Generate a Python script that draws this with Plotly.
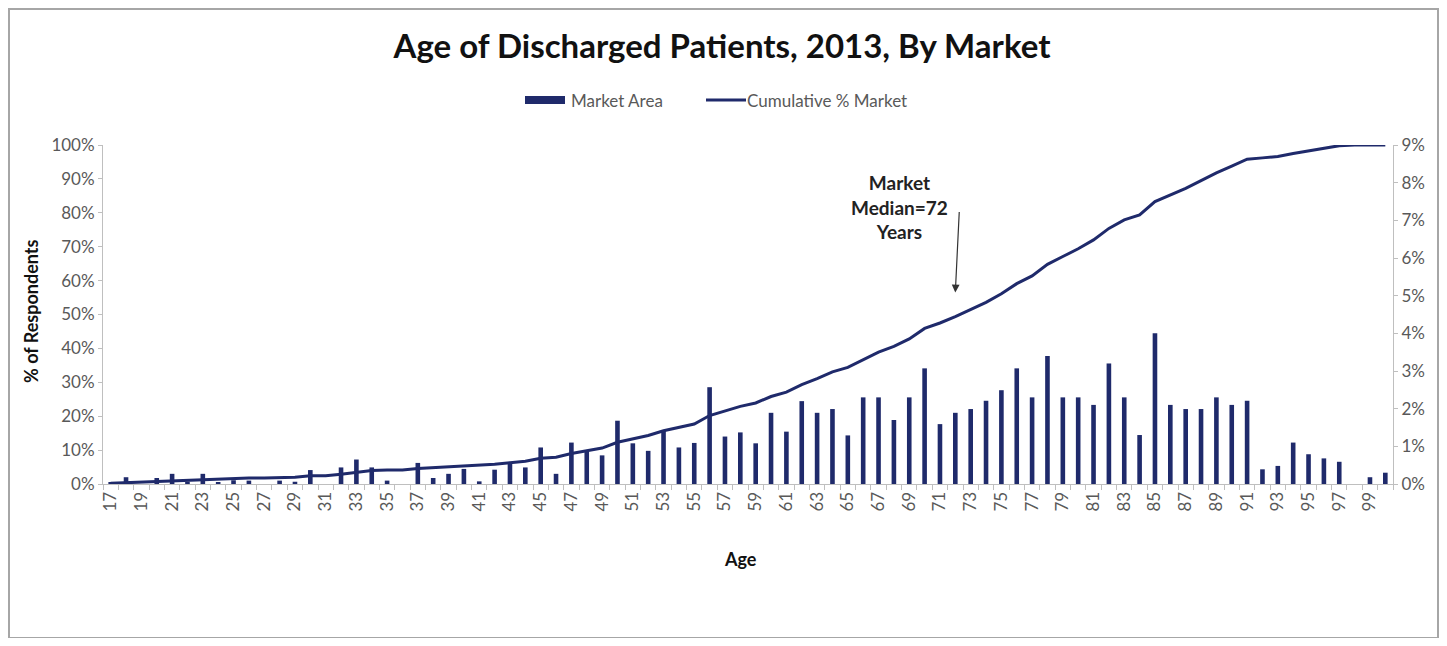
import plotly.graph_objects as go

# ---- data ----
ages = list(range(17, 101))
market_area = [0.05, 0.18, 0.0, 0.16, 0.27, 0.06, 0.27, 0.04, 0.10, 0.09,
               0.0, 0.09, 0.06, 0.37, 0.0, 0.44, 0.65, 0.44, 0.09, 0.0,
               0.56, 0.16, 0.27, 0.40, 0.07, 0.38, 0.56, 0.44, 0.97, 0.27,
               1.10, 0.90, 0.76, 1.68, 1.08, 0.88, 1.43, 0.97, 1.09, 2.57,
               1.26, 1.37, 1.08, 1.89, 1.39, 2.20, 1.89, 1.99, 1.29, 2.30,
               2.30, 1.70, 2.30, 3.07, 1.59, 1.89, 1.99, 2.21, 2.49, 3.07,
               2.30, 3.40, 2.30, 2.30, 2.10, 3.20, 2.30, 1.30, 4.00, 2.10,
               1.99, 1.99, 2.30, 2.10, 2.21, 0.39, 0.48, 1.10, 0.79, 0.68,
               0.59, 0.0, 0.18, 0.30]
cumulative = [0.2, 0.4, 0.5, 0.7, 1.0, 1.1, 1.4, 1.5, 1.7, 1.8,
              1.8, 1.9, 2.0, 2.4, 2.4, 2.9, 3.5, 4.0, 4.1, 4.1,
              4.6, 4.8, 5.0, 5.3, 5.4, 5.8, 6.3, 6.7, 7.6, 7.9,
              9.0, 9.8, 10.6, 12.3, 13.4, 14.3, 15.7, 16.6, 17.7, 20.2,
              21.5, 22.9, 23.9, 25.8, 27.1, 29.3, 31.1, 33.1, 34.4, 36.7,
              38.9, 40.6, 42.8, 45.9, 47.5, 49.4, 51.4, 53.6, 56.1, 59.1,
              61.4, 64.8, 67.1, 69.4, 72.0, 75.4, 77.9, 79.4, 83.3, 85.3,
              87.2, 89.5, 91.8, 93.8, 95.8, 96.2, 96.6, 97.5, 98.3, 99.0,
              99.8, 100.0, 100.0, 100.0]
x_tick_vals = list(range(17, 100, 2))
left_ticks = list(range(0, 101, 10))
right_ticks = list(range(0, 10))
median_age = 72

# ---- layout constants (page body adds an 8px margin) ----
OFF = 8
W, H = 1447 - 2 * OFF, 646 - 2 * OFF
PLOT_X0, PLOT_X1 = 103 - OFF, 1393 - OFF
PLOT_Y0, PLOT_Y1 = 145 - OFF, 484 - OFF
L, R, T, B = PLOT_X0, W - PLOT_X1, PLOT_Y0, H - PLOT_Y1
PW, PH = PLOT_X1 - PLOT_X0, PLOT_Y1 - PLOT_Y0
NAVY = "#1F2A6B"
GREY_TXT = "#595959"
FONT = "Lato"


def px(xr):
    """reference-pixel x -> paper x"""
    return (xr - OFF - L) / PW


def py(yr):
    """reference-pixel y -> paper y"""
    return (PLOT_Y1 - (yr - OFF)) / PH


fig = go.Figure()
fig.add_trace(go.Bar(
    x=ages, y=market_area, name="Market Area", yaxis="y2",
    marker=dict(color=NAVY, line=dict(width=0)), showlegend=False,
))
fig.add_trace(go.Scatter(
    x=ages, y=cumulative, name="Cumulative % Market", yaxis="y",
    mode="lines", line=dict(color=NAVY, width=3), showlegend=False,
))

fig.update_layout(
    width=W, height=H,
    margin=dict(l=L, r=R, t=T, b=B, autoexpand=False),
    paper_bgcolor="white", plot_bgcolor="white",
    bargap=0.7,
    font=dict(family=FONT, color=GREY_TXT, size=16),
    title=dict(text="<b>Age of Discharged Patients, 2013, By Market</b>",
               x=px(722), xanchor="center", xref="paper",
               y=1 - (46 - OFF) / H, yanchor="middle",
               font=dict(family=FONT, size=33, color="#111111")),
    showlegend=False,
    xaxis=dict(
        range=[16.5, 100.5], tickmode="array", tickvals=x_tick_vals,
        ticktext=[str(v) for v in x_tick_vals], tickangle=-90,
        ticks="", showline=True, linecolor="#BFBFBF", linewidth=1,
        showgrid=False, zeroline=False,
        tickfont=dict(family=FONT, size=17, color=GREY_TXT),
        minor=dict(ticks="outside", tick0=16.5, dtick=1, ticklen=5,
                   tickcolor="#BFBFBF", showgrid=False),
    ),
    yaxis=dict(
        range=[0, 100], tickmode="array", tickvals=left_ticks,
        ticktext=[f"{v}%" for v in left_ticks],
        showline=True, linecolor="#BFBFBF", linewidth=1,
        ticks="outside", ticklen=4, tickcolor="#BFBFBF",
        showgrid=False, zeroline=False,
        tickfont=dict(family=FONT, size=17, color=GREY_TXT),
    ),
    yaxis2=dict(
        range=[0, 9], tickmode="array", tickvals=right_ticks,
        ticktext=[f"{v}%" for v in right_ticks],
        overlaying="y", side="right",
        showline=True, linecolor="#BFBFBF", linewidth=1,
        ticks="outside", ticklen=4, tickcolor="#BFBFBF",
        showgrid=False, zeroline=False,
        tickfont=dict(family=FONT, size=17, color=GREY_TXT),
    ),
)

# custom legend (wide bar swatch + line swatch)
fig.add_shape(type="rect", xref="paper", yref="paper",
              x0=px(525), x1=px(565), y0=py(104), y1=py(96),
              fillcolor=NAVY, line=dict(width=0))
fig.add_annotation(text="Market Area", xref="paper", yref="paper",
                   x=px(569), y=py(100), xanchor="left", yanchor="middle",
                   showarrow=False, font=dict(family=FONT, size=17, color=GREY_TXT))
fig.add_shape(type="line", xref="paper", yref="paper",
              x0=px(706), x1=px(746), y0=py(100), y1=py(100),
              line=dict(color=NAVY, width=3))
fig.add_annotation(text="Cumulative % Market", xref="paper", yref="paper",
                   x=px(745), y=py(100), xanchor="left", yanchor="middle",
                   showarrow=False, font=dict(family=FONT, size=17, color=GREY_TXT))

# axis titles
fig.add_annotation(text="<b>% of Respondents</b>", xref="paper", yref="paper",
                   x=px(31), y=py(312), xanchor="center", yanchor="middle",
                   textangle=-90, showarrow=False,
                   font=dict(family=FONT, size=18, color="#111111"))
fig.add_annotation(text="<b>Age</b>", xref="paper", yref="paper",
                   x=px(740), y=py(559), xanchor="center", yanchor="middle",
                   showarrow=False, font=dict(family=FONT, size=18, color="#111111"))

# median annotation
fig.add_annotation(text="<b>Market<br>Median=72<br>Years</b>", xref="paper", yref="paper",
                   x=px(899), y=py(207), xanchor="center", yanchor="middle",
                   showarrow=False, align="center",
                   font=dict(family=FONT, size=19, color="#222222"))
fig.add_annotation(text="", xref="x", yref="y", x=median_age, y=56.5,
                   ax=4, ay=-82, showarrow=True, arrowhead=2, arrowsize=1.3,
                   arrowwidth=1.2, arrowcolor="#333333")

# outer frame
fig.add_shape(type="rect", xref="paper", yref="paper",
              x0=px(9), x1=px(1438), y0=py(638), y1=py(9),
              line=dict(color="#A6A6A6", width=2), fillcolor="rgba(0,0,0,0)",
              layer="below")

fig.write_html("out.html")
